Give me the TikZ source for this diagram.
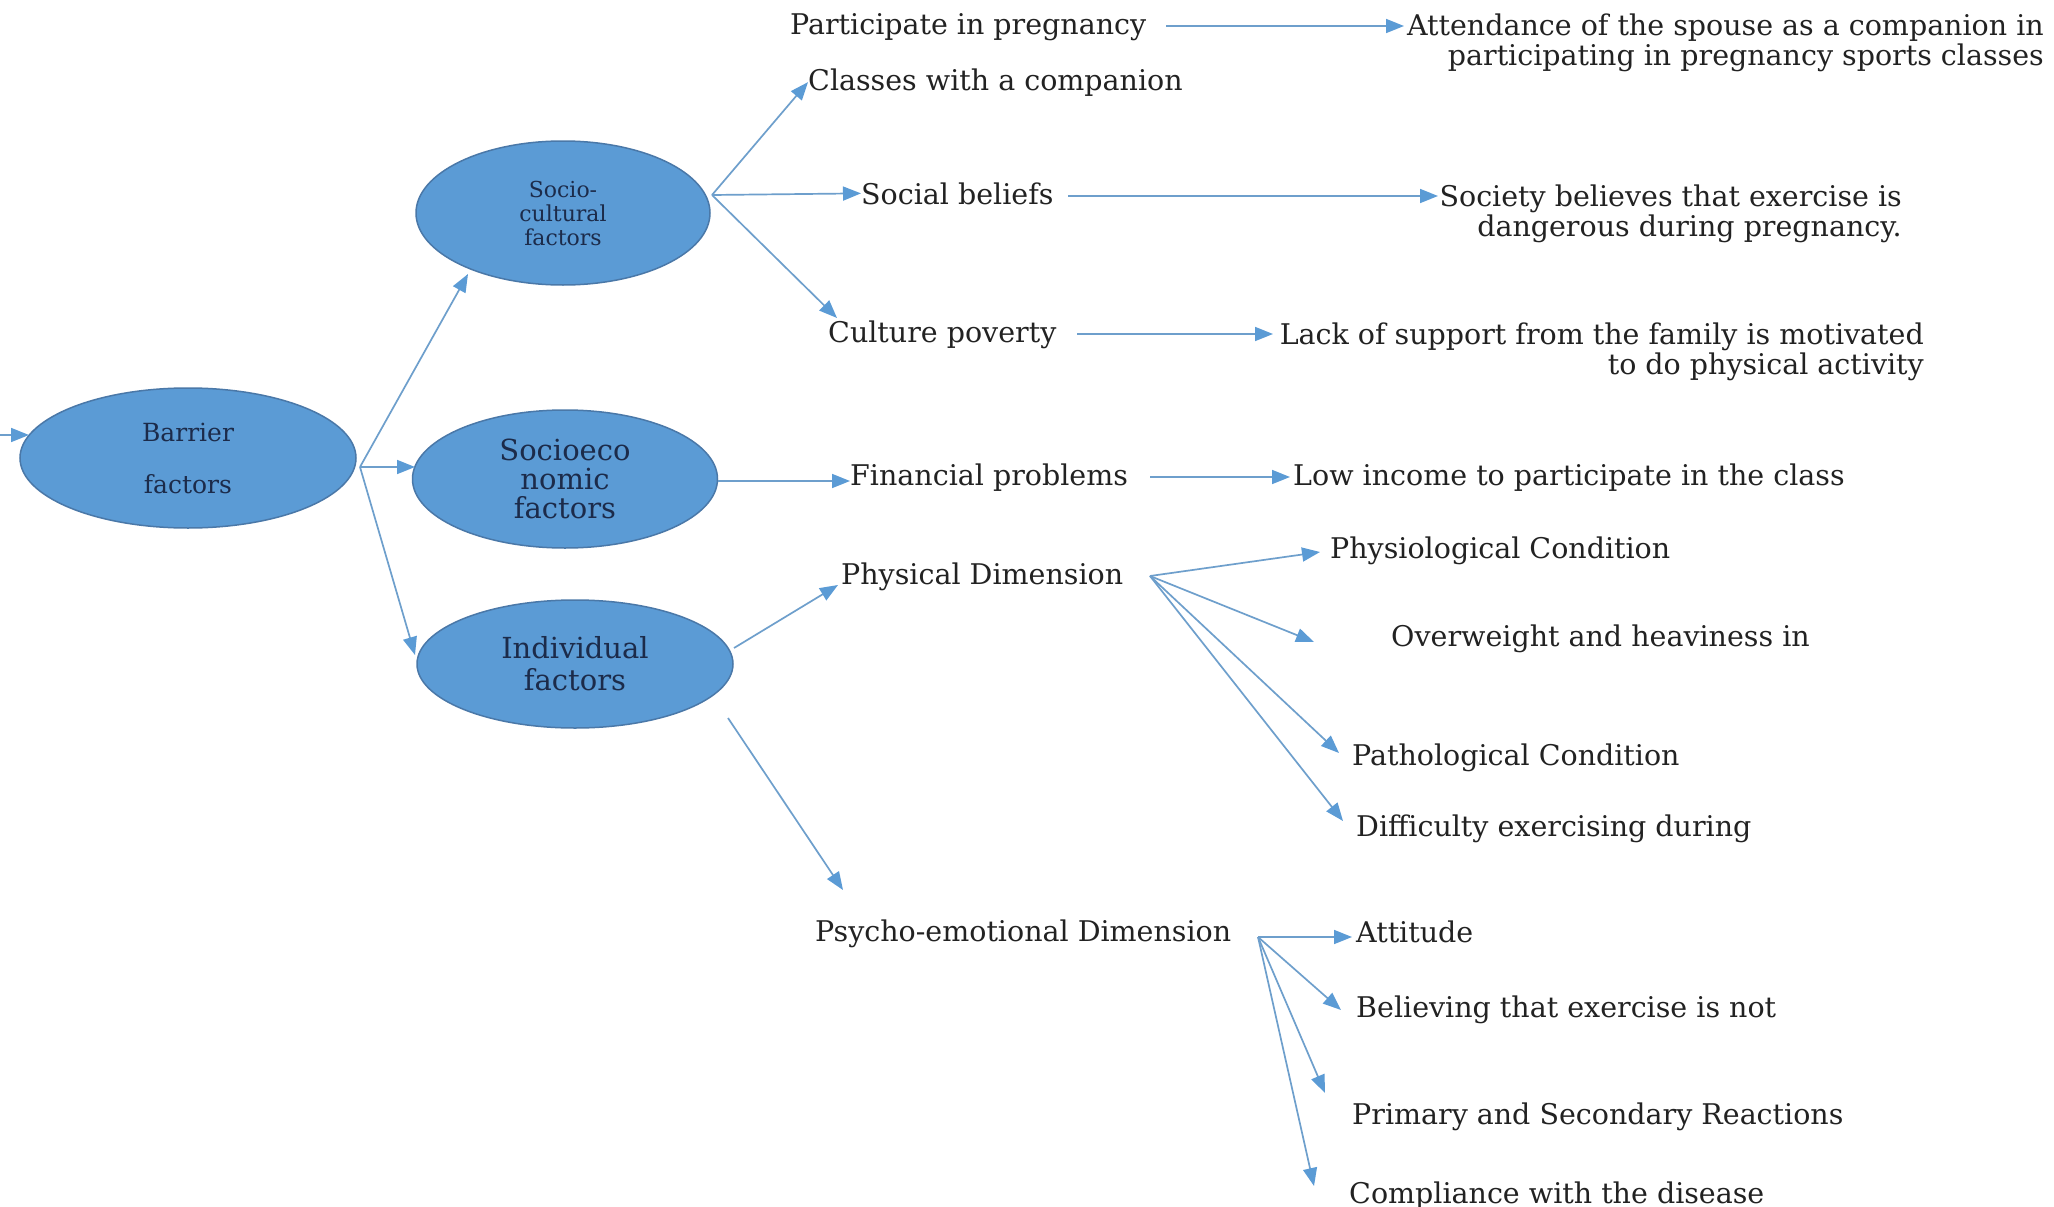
\documentclass[tikz,border=0pt]{standalone}
\usepackage{fontspec}
\setmainfont{DejaVu Serif}
\usetikzlibrary{shapes.geometric,arrows.meta}
\definecolor{factorfill}{HTML}{5B9BD5}
\definecolor{factorline}{HTML}{4A78A8}
\definecolor{factortext}{HTML}{1C2B4A}
\definecolor{linkblue}{HTML}{6E9FCC}
\definecolor{tipblue}{HTML}{5B9BD5}
\definecolor{leaftext}{HTML}{222222}
\tikzset{
  factor/.style={ellipse, fill=factorfill, draw=factorline, line width=1.5pt,
    inner sep=0pt, text=factortext, align=center,
    font=\fontsize{29}{30}\selectfont},
  leaf/.style={inner sep=0pt, anchor=base west, text=leaftext,
    font=\fontsize{28.5}{30}\selectfont},
  leafblock/.style={inner sep=0pt, anchor=east, align=right, text=leaftext,
    font=\fontsize{28.5}{30}\selectfont},
  link/.style={draw=linkblue, line width=1.7pt,
    -{Triangle[length=18pt,width=14pt,color=tipblue]}},
}
\begin{document}
\begin{tikzpicture}[x=1pt,y=-1pt]
\useasboundingbox[fill=white] (0,0) rectangle (2054,1207);

% main factor ellipses
\node[factor, minimum width=336pt, minimum height=140pt, font=\fontsize{25}{27}\selectfont] (barrier) at (188,458)
  {Barrier\\[25pt]factors};
\node[factor, minimum width=294pt, minimum height=144pt, font=\fontsize{22}{24}\selectfont] (socult) at (563,213)
  {Socio-\\cultural\\factors};
\node[factor, minimum width=305pt, minimum height=138pt, font=\fontsize{29}{29}\selectfont] (soceco) at (565,479)
  {Socioeco\\nomic\\factors};
\node[factor, minimum width=316pt, minimum height=128pt, font=\fontsize{29}{32}\selectfont] (indiv) at (575,664)
  {Individual\\factors};

% socio-cultural branch
\node[leaf] (partic) at (790,35) {Participate in pregnancy};
\node[leafblock] (attend) at (2044,43)
  {Attendance of the spouse as a companion in\\participating in pregnancy sports classes};
\node[leaf] (classes) at (808,90) {Classes with a companion};
\node[leaf] (social) at (861,204) {Social beliefs};
\node[leafblock] (society) at (1902,214)
  {Society believes that exercise is\\dangerous during pregnancy.};
\node[leaf] (culture) at (828,342) {Culture poverty};
\node[leafblock] (lack) at (1924,352)
  {Lack of support from the family is motivated\\to do physical activity};

% socioeconomic branch
\node[leaf] (financial) at (850,485) {Financial problems};
\node[leaf] (income) at (1293,485) {Low income to participate in the class};

% individual branch
\node[leaf] (physical) at (841,584) {Physical Dimension};
\node[leaf] (physio) at (1330,558) {Physiological Condition};
\node[leaf] (overw) at (1391,646) {Overweight and heaviness in};
\node[leaf] (patho) at (1352,765) {Pathological Condition};
\node[leaf] (diffic) at (1356,836) {Difficulty exercising during};
\node[leaf] (psycho) at (815,941) {Psycho-emotional Dimension};
\node[leaf] (attit) at (1356,942) {Attitude};
\node[leaf] (believ) at (1356,1017) {Believing that exercise is not};
\node[leaf] (primary) at (1352,1124) {Primary and Secondary Reactions};
\node[leaf] (compl) at (1349,1203) {Compliance with the disease};

% branching points and arrow ends
\coordinate (entry) at (0,435);
\coordinate (barrier-in) at (29,435);
\coordinate (bj) at (360,467);
\coordinate (socult-in) at (468,274);
\coordinate (soceco-in) at (415,467);
\coordinate (indiv-in) at (415,655);
\coordinate (scj) at (712,195);
\coordinate (culture-in) at (837,318);
\coordinate (indiv-up) at (734,648);
\coordinate (indiv-down) at (728,718);
\coordinate (physical-in) at (838,585);
\coordinate (psycho-in) at (843,890);
\coordinate (pj) at (1150,576);
\coordinate (physio-in) at (1320,552);
\coordinate (overw-in) at (1314,642);
\coordinate (patho-in) at (1339,753);
\coordinate (diffic-in) at (1343,821);
\coordinate (qj) at (1258,937);
\coordinate (attit-in) at (1352,937);
\coordinate (believ-in) at (1341,1010);
\coordinate (primary-in) at (1325,1093);
\coordinate (compl-in) at (1314,1186);
\coordinate (partic-out) at (1166,26);
\coordinate (attend-in) at (1404,26);
\coordinate (social-out) at (1068,196);
\coordinate (society-in) at (1438,196);
\coordinate (culture-out) at (1077,334);
\coordinate (lack-in) at (1273,334);
\coordinate (soceco-out) at (718,481);
\coordinate (financial-in) at (850,481);
\coordinate (financial-out) at (1150,477);
\coordinate (income-in) at (1290,477);

% connectors
\draw[link] (entry) -- (barrier-in);
\draw[link] (bj) -- (socult-in);
\draw[link] (bj) -- (soceco-in);
\draw[link] (bj) -- (indiv-in);

\draw[link] (scj) -- (classes.west);
\draw[link] (scj) -- (social.west);
\draw[link] (scj) -- (culture-in);
\draw[link] (partic-out) -- (attend-in);
\draw[link] (social-out) -- (society-in);
\draw[link] (culture-out) -- (lack-in);

\draw[link] (soceco-out) -- (financial-in);
\draw[link] (financial-out) -- (income-in);

\draw[link] (indiv-up) -- (physical-in);
\draw[link] (indiv-down) -- (psycho-in);
\draw[link] (pj) -- (physio-in);
\draw[link] (pj) -- (overw-in);
\draw[link] (pj) -- (patho-in);
\draw[link] (pj) -- (diffic-in);
\draw[link] (qj) -- (attit-in);
\draw[link] (qj) -- (believ-in);
\draw[link] (qj) -- (primary-in);
\draw[link] (qj) -- (compl-in);
\end{tikzpicture}
\end{document}
